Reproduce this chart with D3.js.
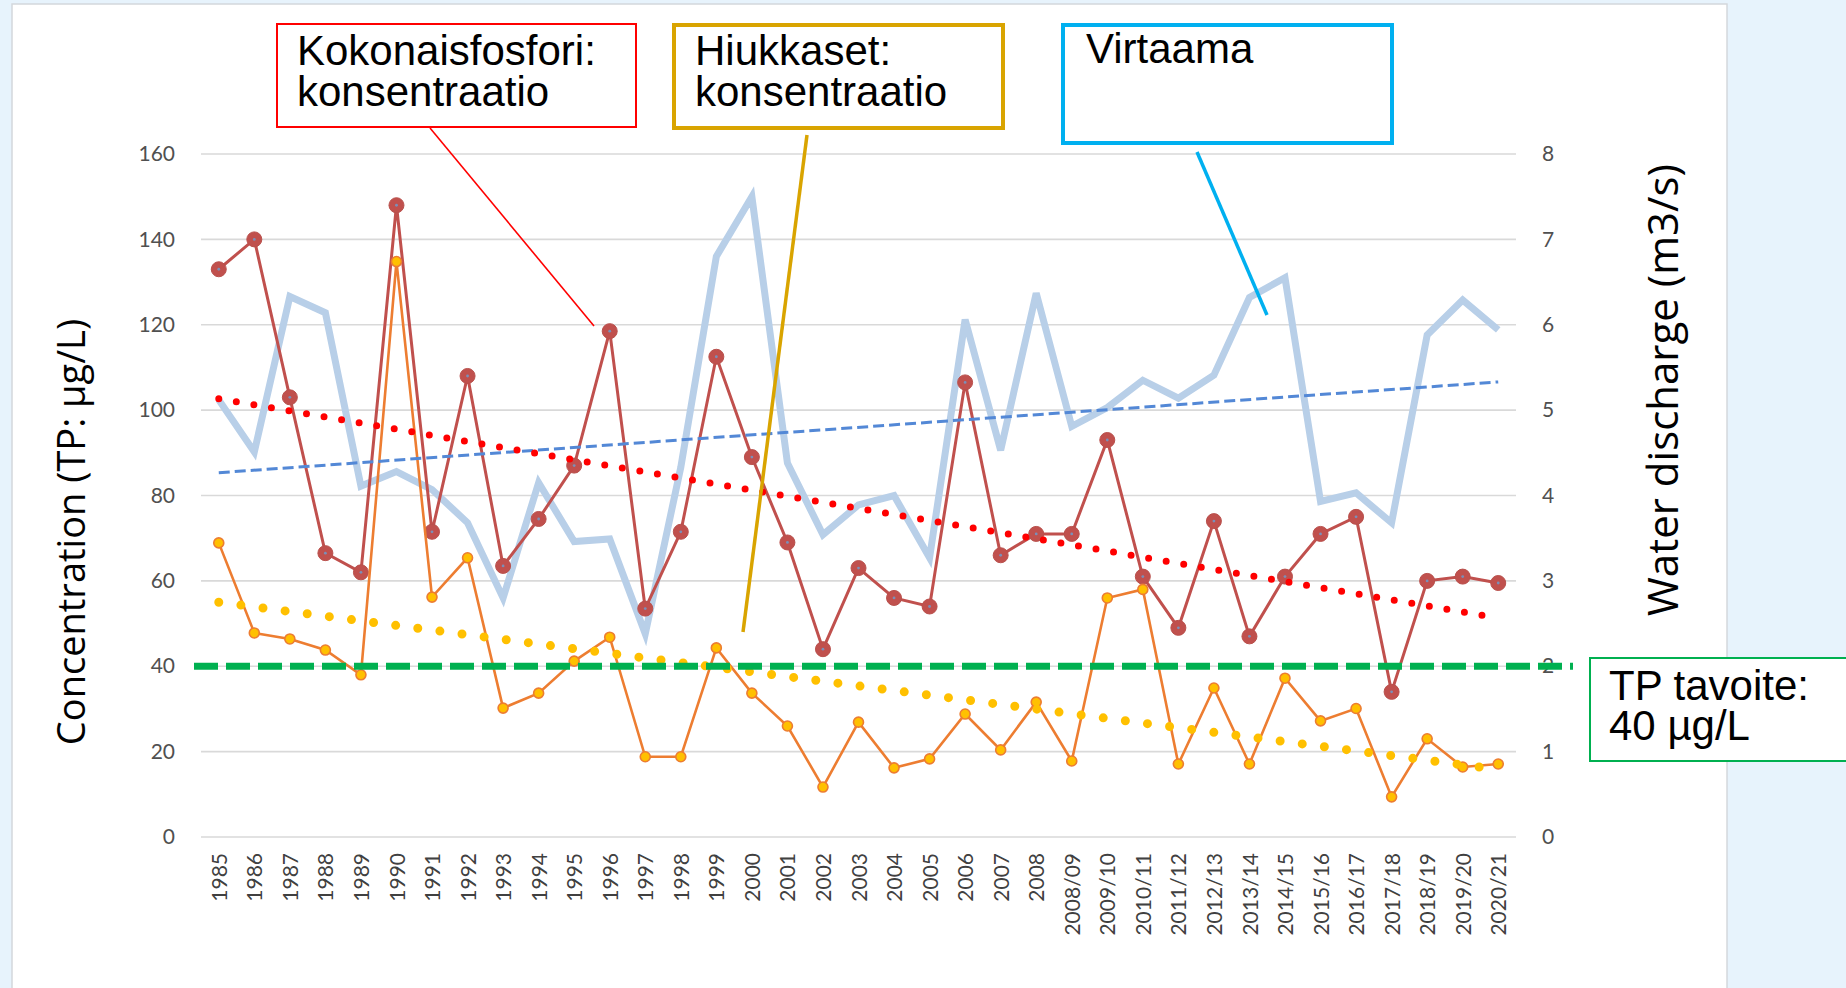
<!DOCTYPE html>
<html>
<head>
<meta charset="utf-8">
<script src="https://cdn.jsdelivr.net/npm/d3@7"></script>
<style>
  html, body { margin: 0; padding: 0; background: #e7f3fc; }
  svg { display: block; }
</style>
</head>
<body>
<svg id="chart" width="1846" height="988"></svg>
<script>
// Hydrological years on the category axis
const categories = ["1985","1986","1987","1988","1989","1990","1991","1992","1993","1994",
  "1995","1996","1997","1998","1999","2000","2001","2002","2003","2004","2005","2006",
  "2007","2008","2008/09","2009/10","2010/11","2011/12","2012/13","2013/14","2014/15",
  "2015/16","2016/17","2017/18","2018/19","2019/20","2020/21"];

// Kokonaisfosfori (total phosphorus), µg/L
const totalPhosphorus = [133, 140, 103, 66.5, 62, 148, 71.5, 108, 63.5, 74.5,
  87, 118.5, 53.5, 71.5, 112.5, 89, 69, 44, 63, 56, 54, 106.5,
  66, 71, 71, 93, 61, 49, 74, 47, 61,
  71, 75, 34, 60, 61, 59.5];

// Hiukkaset (particulate phosphorus), µg/L
const particulate = [68.9, 47.8, 46.4, 43.8, 38, 134.8, 56.2, 65.4, 30.2, 33.7,
  41.2, 46.8, 18.8, 18.8, 44.3, 33.7, 26, 11.7, 26.9, 16.2, 18.3, 28.8,
  20.4, 31.6, 17.8, 56, 58, 17.1, 34.9, 17.1, 37.2,
  27.2, 30.1, 9.4, 23, 16.4, 17.1];

// Virtaama (water discharge), m3/s
const discharge = [5.12, 4.51, 6.33, 6.14, 4.11, 4.28, 4.07, 3.68, 2.80, 4.15,
  3.46, 3.49, 2.38, 4.33, 6.80, 7.50, 4.38, 3.54, 3.89, 4.00, 3.27, 6.06,
  4.53, 6.37, 4.81, 5.03, 5.35, 5.14, 5.41, 6.32, 6.55,
  3.93, 4.03, 3.68, 5.88, 6.29, 5.94];

const leftTicks = [0, 20, 40, 60, 80, 100, 120, 140, 160];
const rightTicks = [0, 1, 2, 3, 4, 5, 6, 7, 8];
const targetTP = 40; // TP tavoite, µg/L

// ---- layout ----
const plot = { left: 201, right: 1516, top: 154, bottom: 837 };

const svg = d3.select("#chart");

const x = d3.scalePoint().domain(categories).range([plot.left, plot.right]).padding(0.5);
const yL = d3.scaleLinear().domain([0, 160]).range([plot.bottom, plot.top]);
const yR = d3.scaleLinear().domain([0, 8]).range([plot.bottom, plot.top]);

// white slide panel
svg.append("rect")
  .attr("x", 12).attr("y", 4).attr("width", 1715).attr("height", 1000)
  .attr("fill", "#ffffff").attr("stroke", "#d4d8dc").attr("stroke-width", 1.5);

// horizontal gridlines
svg.append("g").selectAll("line").data(leftTicks).join("line")
  .attr("x1", plot.left).attr("x2", plot.right)
  .attr("y1", d => yL(d)).attr("y2", d => yL(d))
  .attr("stroke", "#d9d9d9").attr("stroke-width", 1.6);

// left axis tick labels
const leftAxis = svg.append("g")
  .attr("transform", `translate(${plot.left - 26},0)`)
  .call(d3.axisLeft(yL).tickValues(leftTicks).tickSize(0).tickPadding(0));
leftAxis.select(".domain").remove();
leftAxis.selectAll("text")
  .attr("font-family", "Lato, 'Liberation Sans', sans-serif")
  .attr("font-size", 21).attr("fill", "#505050");

// right axis tick labels
const rightAxis = svg.append("g")
  .attr("transform", `translate(${plot.right + 26},0)`)
  .call(d3.axisRight(yR).tickValues(rightTicks).tickSize(0).tickPadding(0));
rightAxis.select(".domain").remove();
rightAxis.selectAll("text")
  .attr("font-family", "Lato, 'Liberation Sans', sans-serif")
  .attr("font-size", 21).attr("fill", "#505050");

// category labels, rotated
const bottomAxis = svg.append("g")
  .attr("transform", `translate(0,${plot.bottom + 16})`)
  .call(d3.axisBottom(x).tickSize(0).tickPadding(0));
bottomAxis.select(".domain").remove();
bottomAxis.selectAll("text")
  .attr("font-family", "Lato, 'Liberation Sans', sans-serif")
  .attr("font-size", 21).attr("fill", "#404040")
  .attr("transform", "rotate(-90)")
  .attr("text-anchor", "end")
  .attr("x", 0).attr("y", 0).attr("dy", "0.36em");

// axis titles
svg.append("text")
  .attr("transform", `translate(85,532) rotate(-90)`)
  .attr("text-anchor", "middle")
  .attr("font-family", "'Open Sans', 'Noto Sans', sans-serif")
  .attr("font-size", 38).attr("fill", "#000")
  .text("Concentration (TP: µg/L)");

svg.append("text")
  .attr("transform", `translate(1678,390) rotate(-90)`)
  .attr("text-anchor", "middle")
  .attr("font-family", "'Open Sans', 'Noto Sans', sans-serif")
  .attr("font-size", 42).attr("fill", "#000")
  .text("Water discharge (m3/s)");

// ---- series ----
const cx = (d, i) => x(categories[i]);

// Virtaama line (right axis)
svg.append("path")
  .datum(discharge)
  .attr("fill", "none").attr("stroke", "#b8cfe8").attr("stroke-width", 7)
  .attr("stroke-linejoin", "miter")
  .attr("d", d3.line().x(cx).y(d => yR(d)));

// Kokonaisfosfori line with markers
svg.append("path")
  .datum(totalPhosphorus)
  .attr("fill", "none").attr("stroke", "#c0504d").attr("stroke-width", 3)
  .attr("d", d3.line().x(cx).y(d => yL(d)));
const tpMarks = svg.append("g");
tpMarks.selectAll("circle.m").data(totalPhosphorus).join("circle")
  .attr("class", "m")
  .attr("cx", cx).attr("cy", d => yL(d)).attr("r", 7.5)
  .attr("fill", "#c0504d").attr("stroke", "#b9504c").attr("stroke-width", 1);
tpMarks.selectAll("circle.c").data(totalPhosphorus).join("circle")
  .attr("class", "c")
  .attr("cx", cx).attr("cy", d => yL(d)).attr("r", 1.4)
  .attr("fill", "#7b8fb8");

// Hiukkaset line with markers
svg.append("path")
  .datum(particulate)
  .attr("fill", "none").attr("stroke", "#ed7d31").attr("stroke-width", 2.6)
  .attr("d", d3.line().x(cx).y(d => yL(d)));
svg.append("g").selectAll("circle").data(particulate).join("circle")
  .attr("cx", cx).attr("cy", d => yL(d)).attr("r", 5)
  .attr("fill", "#ffc000").attr("stroke", "#ed7d31").attr("stroke-width", 1.6);

// ---- linear trendlines (least squares over category index) ----
function linearFit(values) {
  const n = values.length;
  const mx = (n - 1) / 2;
  const my = d3.mean(values);
  let sxy = 0, sxx = 0;
  values.forEach((v, i) => { sxy += (i - mx) * (v - my); sxx += (i - mx) * (i - mx); });
  const b = sxy / sxx;
  return i => my + b * (i - mx);
}
function trend(values, scale, style) {
  const f = linearFit(values);
  const last = values.length - 1;
  svg.append("line")
    .attr("x1", x(categories[0])).attr("y1", scale(f(0)))
    .attr("x2", x(categories[last])).attr("y2", scale(f(last)))
    .attr("stroke", style.color).attr("stroke-width", style.width)
    .attr("stroke-dasharray", style.dash).attr("stroke-linecap", style.cap);
}
trend(discharge, yR, { color: "#5388d6", width: 3, dash: "11 5", cap: "butt" });
trend(totalPhosphorus, yL, { color: "#ff0000", width: 7, dash: "0 17.8", cap: "round" });
trend(particulate, yL, { color: "#ffc000", width: 9, dash: "0 22.3", cap: "round" });

// ---- TP target line ----
svg.append("line")
  .attr("x1", 194).attr("x2", 1573)
  .attr("y1", yL(targetTP)).attr("y2", yL(targetTP))
  .attr("stroke", "#00b050").attr("stroke-width", 7)
  .attr("stroke-dasharray", "24 8");

// ---- callout boxes ----
const calloutFont = "'Liberation Sans', Arial, sans-serif";

function callout(box, lines, color, width, textX, baselines) {
  svg.append("rect")
    .attr("x", box[0]).attr("y", box[1])
    .attr("width", box[2] - box[0]).attr("height", box[3] - box[1])
    .attr("fill", "#ffffff").attr("stroke", color).attr("stroke-width", width);
  const t = svg.append("text")
    .attr("font-family", calloutFont).attr("font-size", 42).attr("fill", "#000");
  lines.forEach((s, i) => t.append("tspan").attr("x", textX).attr("y", baselines[i]).text(s));
}
function leader(p1, p2, color, width) {
  svg.append("line")
    .attr("x1", p1[0]).attr("y1", p1[1]).attr("x2", p2[0]).attr("y2", p2[1])
    .attr("stroke", color).attr("stroke-width", width);
}

leader([430, 128], [594, 326], "#ff0000", 1.6);
leader([807, 135], [743, 632], "#d9a400", 3.5);
leader([1197, 152], [1267, 315], "#00b0f0", 3.5);

callout([277, 24, 636, 127], ["Kokonaisfosfori:", "konsentraatio"], "#ff0000", 2, 297, [65, 106]);
callout([674, 25, 1003, 128], ["Hiukkaset:", "konsentraatio"], "#d9a400", 4, 695, [65, 106]);
callout([1063, 25, 1392, 143], ["Virtaama"], "#00b0f0", 4, 1086, [63]);
callout([1590, 658, 1852, 761], ["TP tavoite:", "40 µg/L"], "#00b050", 2, 1609, [700, 740]);
</script>
</body>
</html>
